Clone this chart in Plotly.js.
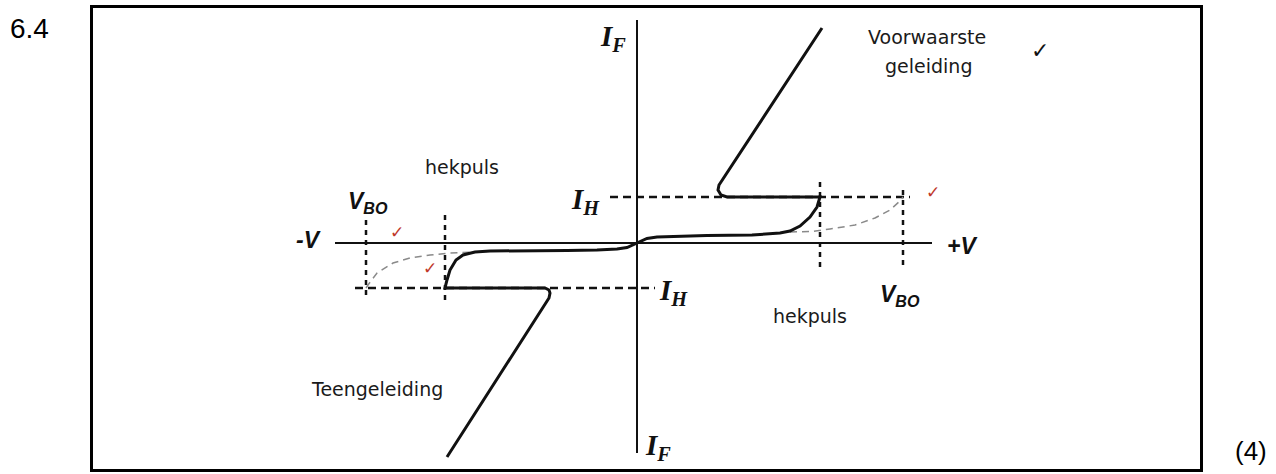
<!DOCTYPE html>
<html>
<head>
<meta charset="utf-8">
<script src="https://cdn.plot.ly/plotly-3.0.1.min.js"></script>
<style>
  html, body { margin: 0; padding: 0; background: #fff; }
  #chart { width: 1276px; height: 474px; }
</style>
</head>
<body>
<div id="chart"></div>
<script>

// thyristor characteristic, V horizontal, I vertical (arbitrary units, origin at axis cross)
const mainV = [ 18.5, 8.2, 8.1, 8.4, 9.0, 18.3, 18.0, 17.3, 16.3, 15.3, 14.3, 11.5, 7.0, 4.0, 2.0, 1.0, 0.0,
    -1.0, -2.0, -4.0, -7.0, -11.5, -14.7, -16.2, -17.4, -18.1, -18.7, -19.0, -19.2, -9.2, -8.8, -8.7, -8.8, -19.0 ];
const mainI = [ 21.5, 5.8, 5.3, 4.8, 4.6, 4.6, 3.6, 2.6, 1.7, 1.2, 1.0, 0.8, 0.75, 0.7, 0.6, 0.45, 0.0,
    -0.45, -0.6, -0.7, -0.75, -0.8, -0.8, -0.9, -1.2, -1.7, -2.7, -3.7, -4.5, -4.5, -4.7, -5.0, -5.5, -21.4 ];

// grey dashed break-over curves
const greyRightV = [ 15.3, 17.5, 19.3, 21.8, 23.8, 25.3, 26.3, 26.6 ];
const greyRightI = [ 1.1, 1.15, 1.4, 1.8, 2.5, 3.3, 4.2, 4.6 ];
const greyLeftV = [ -27.1, -26.9, -26.0, -24.4, -22.7, -20.7, -18.7, -16.7, -15.0 ];
const greyLeftI = [ -4.5, -4.2, -3.0, -2.0, -1.5, -1.2, -1.0, -0.9, -0.85 ];

// axes drawn inside the frame
const vAxisV = [ -30.2, 29.5 ];
const vAxisI = [ 0, 0 ];
const iAxisV = [ 0, 0 ];
const iAxisI = [ 22.3, -21.0 ];

// holding current levels
const holdUpV = [ -2.7, 27.3 ];
const holdUpI = [ 4.6, 4.6 ];
const holdLowV = [ -28.2, 1.8 ];
const holdLowI = [ -4.5, -4.5 ];

// trigger / break-over markers
const markV = [ -27.1, -19.2, 18.3, 26.6 ];
const markTop = [ 2.3, 2.8, 6.1, 5.3 ];
const markBottom = [ -5.7, -5.7, -2.7, -2.7 ];

const black = '#111';

function line( x, y, width, dash, color ) {

    return {
        type: 'scatter', mode: 'lines', x: x, y: y, hoverinfo: 'skip', showlegend: false,
        line: { color: color || black, width: width, dash: dash || 'solid' }
    };

}

const chartData = [
    line( vAxisV, vAxisI, 2 ),
    line( iAxisV, iAxisI, 2 ),
    line( holdUpV, holdUpI, 2.5, '8px,5px' ),
    line( holdLowV, holdLowI, 2.5, '8px,5px' ),
    line( greyRightV, greyRightI, 1.5, '7px,5px', '#8a8a8a' ),
    line( greyLeftV, greyLeftI, 1.5, '7px,5px', '#8a8a8a' ),
];

markV.map( ( v, k ) => {
    chartData.push( line( [ v, v ], [ markTop[ k ], markBottom[ k ] ], 2.5, '5px,5px' ) );
} );

chartData.push( line( mainV, mainI, 3 ) );

const sans = { family: 'DejaVu Sans', size: 19, color: '#1a1a1a' };
const serifI = { family: 'Liberation Serif', size: 29, color: '#111' };
const sansI = { family: 'Liberation Sans', size: 23, color: '#111' };

function label( text, x, y, font ) {

    return { text: text, x: x, y: y, xref: 'x', yref: 'y', showarrow: false, font: font, xanchor: 'center', yanchor: 'middle' };

}

function tick( x, y, color, size ) {

    return label( '✓', x, y, { family: 'DejaVu Sans', size: size, color: color } );

}

const annotations = [
    label( '<b><i>I</i></b><sub><b><i>F</i></b></sub>', -2.4, 20.5, serifI ),
    label( '<b><i>I</i></b><sub><b><i>F</i></b></sub>', 2.1, -20.4, serifI ),
    label( '<b><i>I</i></b><sub><b><i>H</i></b></sub>', -5.2, 4.2, serifI ),
    label( '<b><i>I</i></b><sub><b><i>H</i></b></sub>', 3.6, -4.9, serifI ),
    label( '<b><i>V</i></b><sub><b><i>BO</i></b></sub>', -26.9, 4.1, sansI ),
    label( '<b><i>V</i></b><sub><b><i>BO</i></b></sub>', 26.3, -5.2, sansI ),
    label( '<b><i>-V</i></b>', -32.9, 0.3, sansI ),
    label( '<b><i>+V</i></b>', 32.5, -0.3, sansI ),
    label( 'hekpuls', -17.5, 7.6, sans ),
    label( 'hekpuls', 17.3, -7.3, sans ),
    label( 'Voorwaarste', 29.0, 20.6, sans ),
    label( 'geleiding', 29.1, 17.7, sans ),
    label( 'Teengeleiding', -26.0, -14.6, sans ),
    tick( 40.3, 19.3, '#111', 22 ),
    tick( -24.0, 1.1, '#c0392b', 17 ),
    tick( -20.7, -2.5, '#c0392b', 17 ),
    tick( 29.6, 5.1, '#c0392b', 17 ),
    { text: '6.4', xref: 'paper', yref: 'paper', x: -0.0578, y: 0.9566, showarrow: false,
      font: { family: 'Liberation Sans', size: 28, color: '#000' }, xanchor: 'center', yanchor: 'middle' },
    { text: '(4)', xref: 'paper', yref: 'paper', x: 1.0461, y: 0.04, showarrow: false,
      font: { family: 'Liberation Sans', size: 26, color: '#000' }, xanchor: 'center', yanchor: 'middle' }
];

const frameAxis = {
    showline: true, mirror: true, linecolor: '#000', linewidth: 3,
    showgrid: false, zeroline: false, showticklabels: false, ticks: '', fixedrange: true
};

const chartLayout = {
    width: 1276,
    height: 474,
    margin: { l: 93, r: 76, t: 8, b: 5, pad: 0 },
    paper_bgcolor: '#fff',
    plot_bgcolor: '#fff',
    showlegend: false,
    xaxis: Object.assign( { range: [ -54.4, 56.3 ] }, frameAxis ),
    yaxis: Object.assign( { range: [ -22.6, 23.5 ] }, frameAxis ),
    annotations: annotations
};

Plotly.newPlot( 'chart', chartData, chartLayout, { displayModeBar: false, staticPlot: true } );

</script>
</body>
</html>
